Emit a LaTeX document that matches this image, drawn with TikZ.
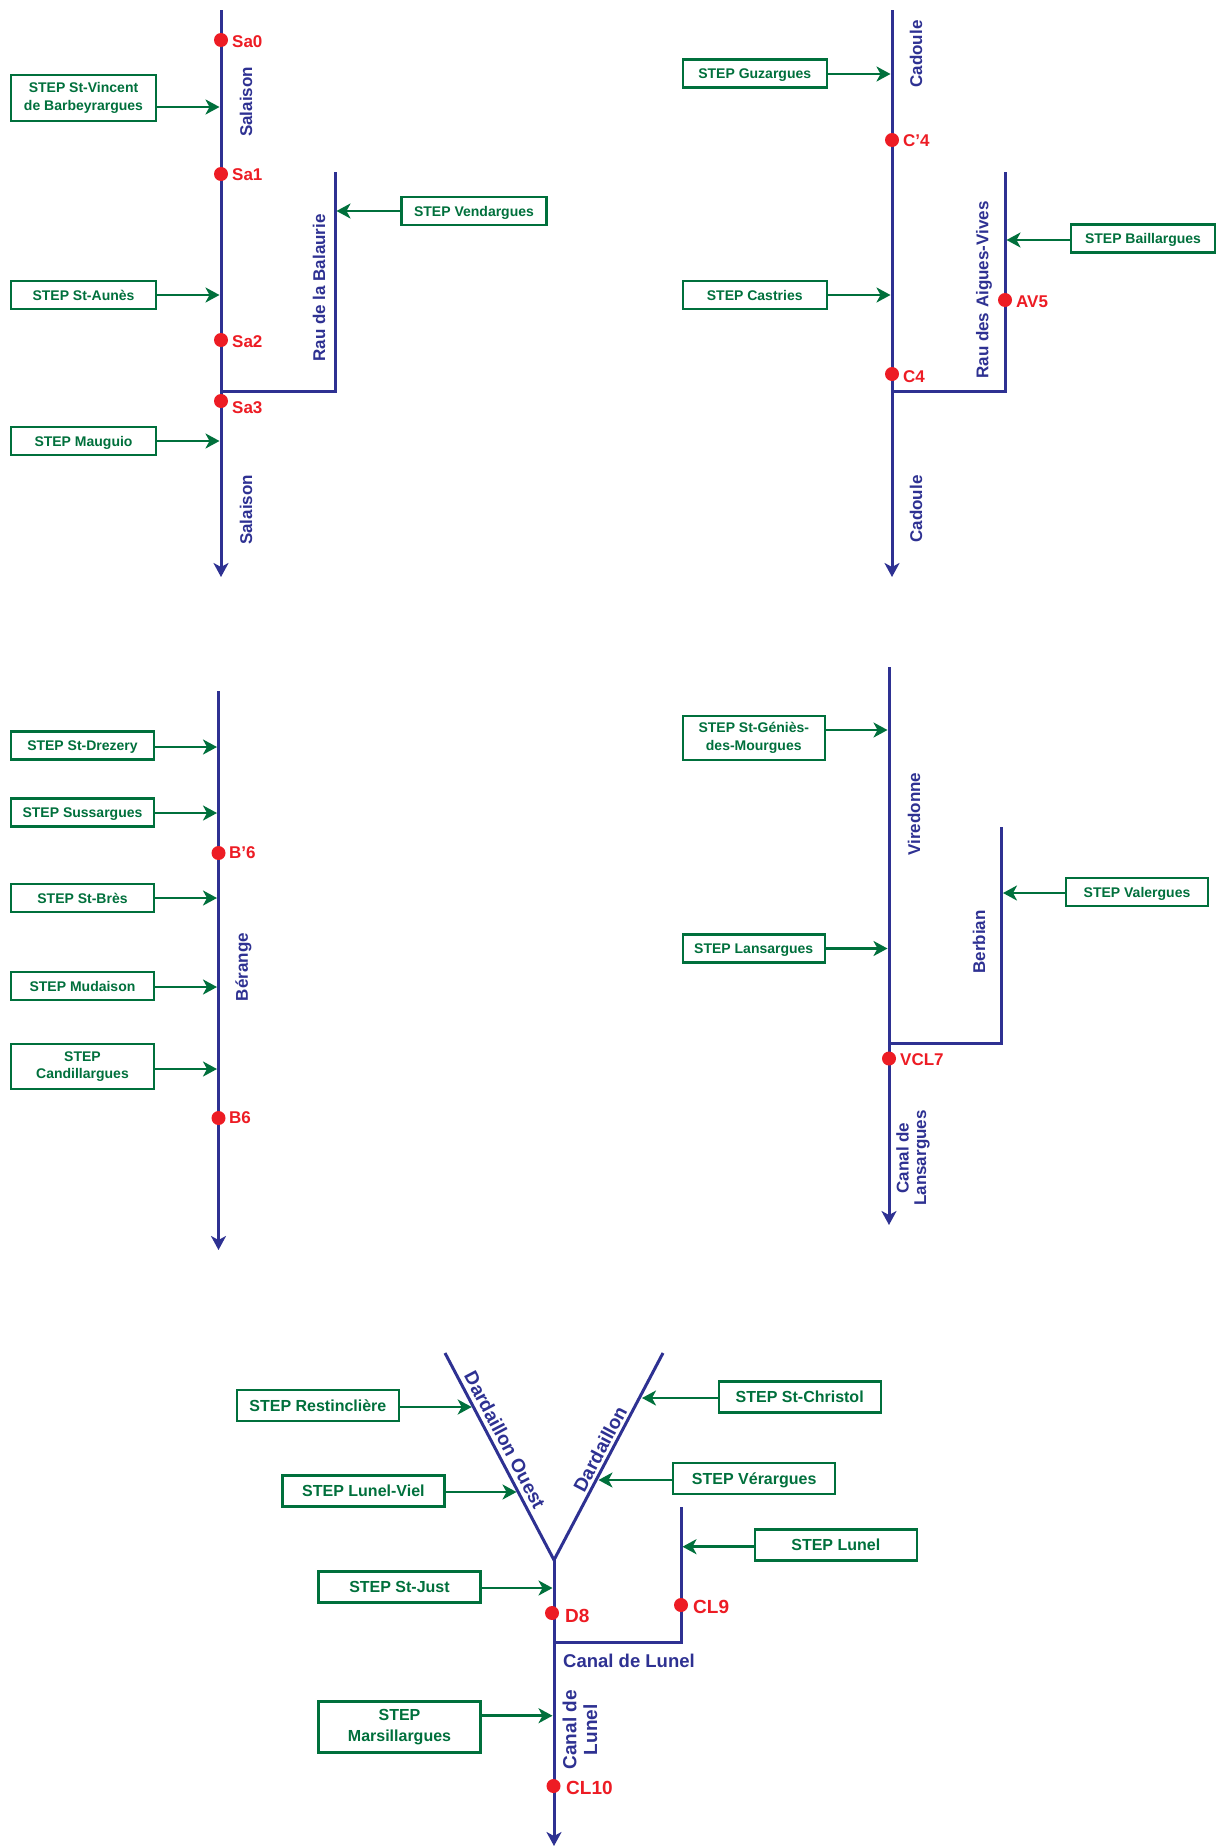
\documentclass[tikz,border=0pt]{standalone}
\usepackage{fontspec}
\setmainfont{Liberation Sans}
\usetikzlibrary{arrows.meta}
\definecolor{stepgreen}{RGB}{0,112,60}
\definecolor{riverblue}{RGB}{46,49,146}
\definecolor{ptred}{RGB}{237,28,36}
\begin{document}
\begin{tikzpicture}[x=1pt,y=-1pt,
 river/.style={draw=riverblue,line width=3pt},
 riverarrow/.style={river,-{Stealth[length=14pt,width=15pt,inset=4pt]}},
 feed/.style={draw=stepgreen,line width=2.5pt,-{Stealth[length=14pt,width=15pt,inset=4pt]}},
 boxbase/.style={draw=stepgreen,line width=2.4pt,text=stepgreen,align=center,inner sep=0pt,font=\fontsize{14}{17.4}\selectfont\bfseries,minimum width=145pt,minimum height=28pt},
 stepbox/.style={boxbase,text depth=0pt},
 twobox/.style={boxbase},
 bigbox/.style={stepbox,font=\fontsize{16}{20.7}\selectfont\bfseries,minimum width=162pt,minimum height=31pt},
 bigtwobox/.style={twobox,font=\fontsize{16}{20.7}\selectfont\bfseries,minimum width=162pt,minimum height=31pt},
 gauge/.style={circle,fill=ptred,inner sep=0pt,minimum size=14pt},
 ptlbl/.style={text=ptred,anchor=west,inner sep=0pt,font=\fontsize{17}{20}\selectfont\bfseries},
 bigptlbl/.style={ptlbl,font=\fontsize{19}{22}\selectfont\bfseries},
 rname/.style={text=riverblue,inner sep=0pt,font=\fontsize{17}{17.3}\selectfont\bfseries,align=center},
 bigrname/.style={rname,font=\fontsize{19}{20.7}\selectfont\bfseries},
]
\useasboundingbox[fill=white] (0,0) rectangle (1223,1847);

% ===== Section 1 : Salaison =====
\coordinate (salTop) at (221,10);
\coordinate (salEnd) at (221,577);
\coordinate (balTop) at (335,172);
\coordinate (balJoin) at (221,391);
\draw[riverarrow] (salTop) -- (salEnd);
\draw[river] (balTop) |- (balJoin);
\node[twobox,minimum height=45.5pt] (stv) at (83.5,98) {STEP St-Vincent\\de Barbeyrargues};
\node[stepbox] (sta) at (83.5,295) {STEP St-Aunès};
\node[stepbox] (mau) at (83.5,441) {STEP Mauguio};
\node[stepbox] (ven) at (474,211) {STEP Vendargues};
\coordinate (tstv) at (219.5,107);
\coordinate (tsta) at (219.5,295);
\coordinate (tmau) at (219.5,441);
\coordinate (tven) at (336.5,211);
\draw[feed] (stv.east |- tstv) -- (tstv);
\draw[feed] (sta.east |- tsta) -- (tsta);
\draw[feed] (mau.east |- tmau) -- (tmau);
\draw[feed] (ven.west |- tven) -- (tven);
\node[gauge] (sa0) at (221,40) {};
\node[gauge] (sa1) at (221,174) {};
\node[gauge] (sa2) at (221,340) {};
\node[gauge] (sa3) at (221,401) {};
\node[ptlbl] (sa0l) at (232,42) {Sa0};
\node[ptlbl] (sa1l) at (232,175) {Sa1};
\node[ptlbl] (sa2l) at (232,342) {Sa2};
\node[ptlbl] (sa3l) at (232,408) {Sa3};
\node[rname,rotate=90] (salA) at (246,102) {Salaison};
\node[rname,rotate=90] (salB) at (246,510) {Salaison};
\node[rname,rotate=90] (bal) at (319,288) {Rau de la Balaurie};

% ===== Section 2 : Cadoule =====
\coordinate (cadTop) at (892,10);
\coordinate (cadEnd) at (892,577);
\coordinate (avTop) at (1005,172);
\coordinate (avJoin) at (892,391);
\draw[riverarrow] (cadTop) -- (cadEnd);
\draw[river] (avTop) |- (avJoin);
\node[stepbox,minimum width=144pt] (guz) at (754.75,73.5) {STEP Guzargues};
\node[stepbox,minimum width=144pt] (cas) at (754.75,295) {STEP Castries};
\node[stepbox,minimum width=144pt] (bai) at (1143,238.5) {STEP Baillargues};
\coordinate (tguz) at (890.5,74);
\coordinate (tcas) at (890.5,295);
\coordinate (tbai) at (1006.5,240);
\draw[feed] (guz.east |- tguz) -- (tguz);
\draw[feed] (cas.east |- tcas) -- (tcas);
\draw[feed] (bai.west |- tbai) -- (tbai);
\node[gauge] (c4p) at (892,140) {};
\node[gauge] (c4) at (892,374) {};
\node[gauge] (av5) at (1005,300) {};
\node[ptlbl] (c4pl) at (903,141) {C’4};
\node[ptlbl] (c4l) at (903,377) {C4};
\node[ptlbl] (av5l) at (1016,302) {AV5};
\node[rname,rotate=90] (cadA) at (916,54) {Cadoule};
\node[rname,rotate=90] (cadB) at (916,509) {Cadoule};
\node[rname,rotate=90] (avn) at (984,290) {Rau des Aigues-Vives};

% ===== Section 3 : Berange =====
\coordinate (berTop) at (218.5,691);
\coordinate (berEnd) at (218.5,1250);
\draw[riverarrow] (berTop) -- (berEnd);
\node[stepbox,minimum width=143pt] (dre) at (82.5,745.5) {STEP St-Drezery};
\node[stepbox,minimum width=143pt] (sus) at (82.5,812.5) {STEP Sussargues};
\node[stepbox,minimum width=143pt] (bre) at (82.5,898) {STEP St-Brès};
\node[stepbox,minimum width=143pt] (mud) at (82.5,986) {STEP Mudaison};
\node[twobox,minimum width=143pt,minimum height=44.5pt] (cdl) at (82.5,1066.5) {STEP\\Candillargues};
\coordinate (tdre) at (217,747);
\coordinate (tsus) at (217,813);
\coordinate (tbre) at (217,898);
\coordinate (tmud) at (217,987);
\coordinate (tcdl) at (217,1069);
\draw[feed] (dre.east |- tdre) -- (tdre);
\draw[feed] (sus.east |- tsus) -- (tsus);
\draw[feed] (bre.east |- tbre) -- (tbre);
\draw[feed] (mud.east |- tmud) -- (tmud);
\draw[feed] (cdl.east |- tcdl) -- (tcdl);
\node[gauge] (b6p) at (218.5,853) {};
\node[gauge] (b6) at (218.5,1118) {};
\node[ptlbl] (b6pl) at (229,853) {B’6};
\node[ptlbl] (b6l) at (229,1118) {B6};
\node[rname,rotate=90] (bern) at (243.5,967) {Bérange};

% ===== Section 4 : Viredonne =====
\coordinate (virTop) at (889,667);
\coordinate (virEnd) at (889,1225);
\coordinate (berbTop) at (1001.5,827);
\coordinate (berbJoin) at (889,1043);
\draw[riverarrow] (virTop) -- (virEnd);
\draw[river] (berbTop) |- (berbJoin);
\node[twobox,minimum width=142pt,minimum height=43.5pt] (gen) at (753.75,738) {STEP St-Géniès-\\des-Mourgues};
\node[stepbox,minimum width=142pt] (lan) at (753.75,948.5) {STEP Lansargues};
\node[stepbox,minimum width=142pt] (val) at (1137,892) {STEP Valergues};
\coordinate (tgen) at (887.5,730);
\coordinate (tlan) at (887.5,948.5);
\coordinate (tval) at (1003,893);
\draw[feed] (gen.east |- tgen) -- (tgen);
\draw[feed] (lan.east |- tlan) -- (tlan);
\draw[feed] (val.west |- tval) -- (tval);
\node[gauge] (vcl7) at (889,1058.5) {};
\node[ptlbl] (vcl7l) at (900,1060) {VCL7};
\node[rname,rotate=90] (virn) at (914,814) {Viredonne};
\node[rname,rotate=90] (berbn) at (979,942) {Berbian};
\node[rname,rotate=90] (clan) at (913,1158) {Canal de\\Lansargues};

% ===== Section 5 : Dardaillon / Canal de Lunel =====
\coordinate (dOtop) at (445,1353);
\coordinate (vtx) at (554,1560);
\coordinate (dTop) at (663,1353);
\coordinate (clEnd) at (554,1846);
\coordinate (lunTop) at (681,1507);
\coordinate (lunJoin) at (554,1642);
\draw[river,line join=miter] (dOtop) -- (vtx) -- (dTop);
\draw[riverarrow] (vtx) -- (clEnd);
\draw[river] (lunTop) |- (lunJoin);
\node[bigbox] (res) at (317.9,1405.7) {STEP Restinclière};
\node[bigbox] (lv) at (363.4,1490.8) {STEP Lunel-Viel};
\node[bigbox] (sj) at (399.5,1587) {STEP St-Just};
\node[bigtwobox,minimum height=51pt] (mar) at (399.5,1727) {STEP\\Marsillargues};
\node[bigbox] (chr) at (799.7,1396.8) {STEP St-Christol};
\node[bigbox] (ver) at (754.2,1478.5) {STEP Vérargues};
\node[bigbox] (lun) at (835.8,1544.8) {STEP Lunel};
\coordinate (tres) at (471.7,1407);
\coordinate (tlv) at (516.5,1492);
\coordinate (tsj) at (552.5,1588);
\coordinate (tmar) at (552.5,1715.7);
\coordinate (tchr) at (642,1398);
\coordinate (tver) at (598.5,1480);
\coordinate (tlun) at (682.5,1546.7);
\draw[feed] (res.east |- tres) -- (tres);
\draw[feed] (lv.east |- tlv) -- (tlv);
\draw[feed] (sj.east |- tsj) -- (tsj);
\draw[feed] (mar.east |- tmar) -- (tmar);
\draw[feed] (chr.west |- tchr) -- (tchr);
\draw[feed] (ver.west |- tver) -- (tver);
\draw[feed] (lun.west |- tlun) -- (tlun);
\node[gauge] (d8) at (552,1613) {};
\node[gauge] (cl9) at (681,1605) {};
\node[gauge] (cl10) at (553.5,1786) {};
\node[bigptlbl] (d8l) at (565,1616) {D8};
\node[bigptlbl] (cl9l) at (693,1607) {CL9};
\node[bigptlbl] (cl10l) at (566,1788) {CL10};
\node[bigrname,anchor=west,font=\fontsize{18.5}{20}\selectfont\bfseries] (clh) at (563,1661) {Canal de Lunel};
\node[bigrname,rotate=90] (clv) at (580,1729.7) {Canal de\\Lunel};
\node[bigrname,rotate=-62.2] (dOn) at (505,1440) {Dardaillon Ouest};
\node[bigrname,rotate=62.2] (dn) at (600,1449) {Dardaillon};
\end{tikzpicture}
\end{document}
